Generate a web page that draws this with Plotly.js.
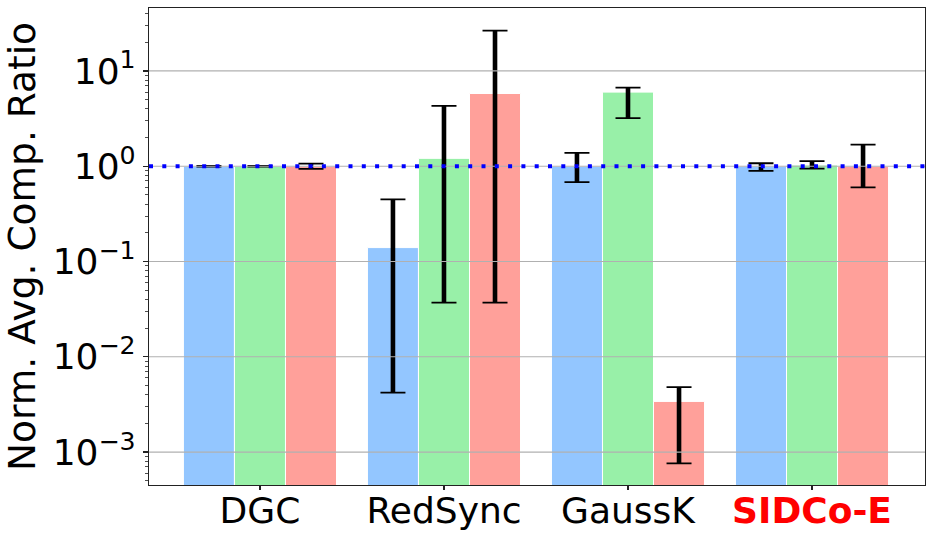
<!DOCTYPE html>
<html>
<head>
<meta charset="utf-8">
<script src="https://cdn.plot.ly/plotly-3.0.1.min.js"></script>
<style>html,body{margin:0;padding:0;background:#fff;}#chart{width:934px;height:540px;}</style>
</head>
<body>
<div id="chart"></div>
<script>
// ---- data ----
const categories = ['DGC', 'RedSync', 'GaussK', 'SIDCo-E'];
const highlighted = 'SIDCo-E';

const blueValues  = [1.0, 0.14, 1.0, 1.0];
const blueUpper   = [1.01, 0.45, 1.38, 1.075];
const blueLower   = [0.99, 0.0042, 0.68, 0.893];

const greenValues = [1.0, 1.21, 6.0, 1.03];
const greenUpper  = [1.01, 4.3, 6.7, 1.13];
const greenLower  = [0.99, 0.037, 3.2, 0.945];

const redValues   = [1.0, 5.8, 0.0034, 1.0];
const redUpper    = [1.067, 26.5, 0.0048, 1.69];
const redLower    = [0.937, 0.037, 0.00076, 0.60];

const referenceLevel = 1;
const yTickValues = [0.001, 0.01, 0.1, 1, 10];
const yTickExponents = ['−3', '−2', '−1', '0', '1'];

// ---- build ----
const series = [
  {name: 'blue',  color: '#93c6ff', v: blueValues,  up: blueUpper,  lo: blueLower},
  {name: 'green', color: '#98f0a8', v: greenValues, up: greenUpper, lo: greenLower},
  {name: 'red',   color: '#ffa09a', v: redValues,   up: redUpper,   lo: redLower}
];

const traces = [];
series.forEach((s, i) => {
  const plus = s.up.map((u, k) => u - s.v[k]);
  const minus = s.v.map((v, k) => v - s.lo[k]);
  traces.push({
    type: 'bar', x: categories, y: s.v, name: s.name, offsetgroup: String(i),
    marker: {color: s.color, line: {color: '#ffffff', width: 1}},
    error_y: {type: 'data', symmetric: false, array: plus, arrayminus: minus,
              color: '#000000', thickness: 4.6, width: 0},
    hoverinfo: 'x+y', showlegend: false
  });
  traces.push({
    type: 'bar', x: categories, y: s.v, name: s.name + ' caps', offsetgroup: String(i),
    marker: {color: 'rgba(0,0,0,0)', line: {width: 0}},
    error_y: {type: 'data', symmetric: false, array: plus, arrayminus: minus,
              color: '#000000', thickness: 1.8, width: 12.5},
    hoverinfo: 'skip', showlegend: false
  });
});

const tickText = categories.map(c => c === highlighted
  ? '<span style="color:#ff0000"><b>' + c + '</b></span>' : c);
const yTickText = yTickExponents.map(e => '10<sup>' + e + '</sup>');

const minorVals = [];
for (let d = -4; d <= 1; d++) {
  for (let m = 2; m <= 9; m++) minorVals.push(m * Math.pow(10, d));
}

const shapes = yTickValues.map(v => ({
  type: 'line', xref: 'paper', x0: 0, x1: 1, yref: 'y', y0: v, y1: v,
  line: {color: '#b0b0b0', width: 1.2}, layer: 'above'
}));
shapes.push({
  type: 'line', xref: 'paper', x0: 0, x1: 1, yref: 'y', y0: referenceLevel, y1: referenceLevel,
  line: {color: '#0000ff', width: 4, dash: '4px,9.3px'}, layer: 'above'
});

const layout = {
  width: 934, height: 540,
  margin: {l: 149, r: 9, t: 8, b: 55, pad: 0},
  paper_bgcolor: '#ffffff', plot_bgcolor: '#ffffff',
  font: {family: 'DejaVu Sans, sans-serif', color: '#000000', size: 36},
  barmode: 'group', bargap: 0.168, bargroupgap: 0,
  showlegend: false,
  xaxis: {
    type: 'category', range: [-0.603, 3.614],
    tickmode: 'array', tickvals: categories, ticktext: tickText,
    ticks: 'outside', ticklen: 4, tickwidth: 1.1, tickcolor: '#222',
    ticklabelstandoff: -10,
    showline: true, linecolor: '#222', linewidth: 1.2, mirror: true,
    showgrid: false, zeroline: false,
    tickfont: {size: 36, family: 'DejaVu Sans, sans-serif'}
  },
  yaxis: {
    type: 'log', range: [-3.346, 1.661],
    tickmode: 'array', tickvals: yTickValues, ticktext: yTickText,
    ticks: 'outside', ticklen: 5, tickwidth: 1.1, tickcolor: '#222',
    minor: {tickmode: 'array', tickvals: minorVals, ticks: 'outside', ticklen: 2.8,
            tickwidth: 0.8, tickcolor: '#222', showgrid: false},
    showline: true, linecolor: '#222', linewidth: 1.2, mirror: true,
    showgrid: false, zeroline: false,
    tickfont: {size: 36, family: 'DejaVu Sans, sans-serif'},
    title: {text: 'Norm. Avg. Comp. Ratio', font: {size: 37.5, family: 'DejaVu Sans, sans-serif'}, standoff: 8},
    automargin: false
  },
  shapes: shapes
};

Plotly.newPlot('chart', traces, layout, {displayModeBar: false, staticPlot: true});
</script>
</body>
</html>
